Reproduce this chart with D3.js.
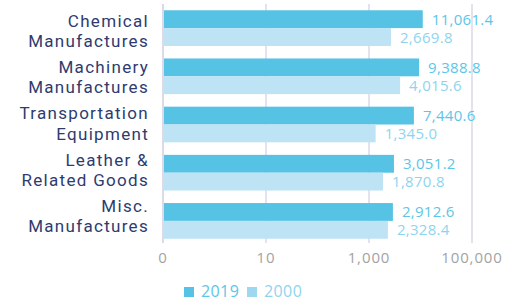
<!DOCTYPE html>
<html>
<head>
<meta charset="utf-8">
<script src="https://cdn.jsdelivr.net/npm/d3@7"></script>
<style>
  html, body { margin: 0; padding: 0; background: #fff; }
  svg { display: block; font-family: "Open Sans", sans-serif; }
</style>
</head>
<body>
<svg id="chart" width="510" height="302"></svg>
<script>
// data
var categories = [
  ["Chemical", "Manufactures"],
  ["Machinery", "Manufactures"],
  ["Transportation", "Equipment"],
  ["Leather &", "Related Goods"],
  ["Misc.", "Manufactures"]
];
var seriesNames = ["2019", "2000"];
var values2019 = [11061.4, 9388.8, 7440.6, 3051.2, 2912.6];
var values2000 = [2669.8, 4015.6, 1345.0, 1870.8, 2328.4];
var tickValues = [0.1, 10, 1000, 100000];

var barColors = { "2019": "#56c2e4", "2000": "#bde3f4" };
var textColors = { "2019": "#5cc6e8", "2000": "#8fd4ee" };
var legendColors = { "2019": "#56c2e4", "2000": "#9dd8f0" };

var svg = d3.select("#chart");
var keys = categories.map(c => c.join(" "));

var x = d3.scaleLog()
  .domain([0.1, 100000])
  .range([163, 472]);

var y = d3.scaleBand()
  .domain(keys)
  .range([4, 245])
  .paddingInner(0.26)
  .paddingOuter(0.13);

var yInner = d3.scaleBand()
  .domain(seriesNames)
  .range([0, y.bandwidth()]);

// label rows sit on a slightly tighter spacing than the bars
var yLab = d3.scaleBand()
  .domain(keys)
  .range([10, 241.5]);

// gridlines
svg.append("g")
  .selectAll("line")
  .data(tickValues)
  .enter()
  .append("line")
  .attr("x1", d => x(d))
  .attr("x2", d => x(d))
  .attr("y1", 4)
  .attr("y2", 243)
  .attr("stroke", d => d === 0.1 ? "#c9c6dc" : "#d6d3e6")
  .attr("stroke-width", 1.3);

// tick labels
svg.append("g")
  .selectAll("text")
  .data(tickValues)
  .enter()
  .append("text")
  .attr("x", d => x(d))
  .attr("y", 263)
  .attr("text-anchor", "middle")
  .attr("font-size", 15)
  .attr("letter-spacing", 0.9)
  .attr("fill", "#a3a3a3")
  .text(d => d3.format(",.0f")(d));

var rows = [];
keys.forEach(function(k, i) {
  rows.push({ key: k, series: "2019", value: values2019[i] });
  rows.push({ key: k, series: "2000", value: values2000[i] });
});

// bars
svg.append("g")
  .selectAll("rect")
  .data(rows)
  .enter()
  .append("rect")
  .attr("x", x(0.1) + 1)
  .attr("y", d => y(d.key) + yInner(d.series))
  .attr("width", d => x(d.value) - x(0.1) - 1)
  .attr("height", yInner.bandwidth())
  .attr("fill", d => barColors[d.series]);

// value labels
svg.append("g")
  .selectAll("text")
  .data(rows)
  .enter()
  .append("text")
  .attr("x", d => x(d.value) + 9)
  .attr("y", d => y(d.key) + yInner(d.series) + yInner.bandwidth() / 2 + 5.5)
  .attr("font-size", 15)
  .attr("letter-spacing", 0.3)
  .attr("fill", d => textColors[d.series])
  .text(d => d3.format(",.1f")(d.value));

// category labels
var labs = svg.append("g")
  .selectAll("text")
  .data(categories)
  .enter()
  .append("text")
  .attr("text-anchor", "end")
  .attr("font-family", "Roboto, sans-serif")
  .attr("font-size", 17)
  .attr("letter-spacing", 1.3)
  .attr("fill", "#2e3b6f");

labs.selectAll("tspan")
  .data((d, i) => d.map((line, j) => ({ line: line, j: j, key: keys[i] })))
  .enter()
  .append("tspan")
  .attr("x", 149)
  .attr("y", d => yLab(d.key) + 16.7 + d.j * 20.3)
  .text(d => d.line);

// legend
var legend = svg.append("g")
  .selectAll("g")
  .data(seriesNames)
  .enter()
  .append("g")
  .attr("transform", (d, i) => "translate(" + (184 + i * 63) + ",287)");

legend.append("rect")
  .attr("width", 10)
  .attr("height", 10)
  .attr("fill", d => legendColors[d]);

legend.append("text")
  .attr("x", 17)
  .attr("y", 10)
  .attr("font-size", 16)
  .attr("letter-spacing", 0.4)
  .attr("fill", d => textColors[d])
  .text(d => d);
</script>
</body>
</html>
